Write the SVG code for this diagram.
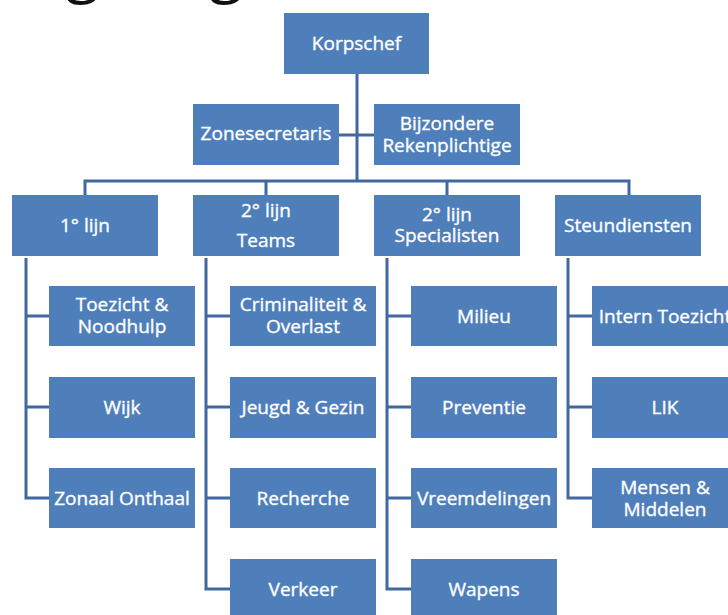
<svg xmlns="http://www.w3.org/2000/svg" width="728" height="615" viewBox="0 0 728 615">
<style>
.box{fill:#4f7fbb;}
.t{fill:#ffffff;stroke:#ffffff;stroke-width:0.35;font-family:"Open Sans","Liberation Sans",sans-serif;font-size:19px;text-anchor:middle;}
.ln{fill:none;stroke:#41689f;stroke-width:3;}
.title{fill:#111111;font-family:"Open Sans","Liberation Sans",sans-serif;font-size:62px;}
</style>
<rect width="728" height="615" fill="#ffffff"/>
<text class="title" x="-8" y="-10">Organogram</text>
<g id="connectors">
<path class="ln" d="M357 74V181M339 135H374M85 195V181H629V195M266 181V195M447 181V195"/>
<path class="ln" d="M26 258V498H49M26 316H49M26 407H49"/>
<path class="ln" d="M206 258V589H230M206 316H230M206 407H230M206 498H230"/>
<path class="ln" d="M387 258V589H411M387 316H411M387 407H411M387 498H411"/>
<path class="ln" d="M568 258V498H592M568 316H592M568 407H592"/>
</g>
<g id="korpschef"><rect class="box" x="284" y="13" width="145" height="61"/><text class="t" x="356.5" y="50">Korpschef</text></g>
<g id="zonesecretaris"><rect class="box" x="193" y="104" width="146" height="61"/><text class="t" x="266" y="140">Zonesecretaris</text></g>
<g id="bijzondere"><rect class="box" x="374" y="104" width="146" height="61"/><text class="t" x="447" y="130">Bijzondere</text><text class="t" x="447" y="152">Rekenplichtige</text></g>
<g id="lijn1"><rect class="box" x="12" y="195" width="146" height="61"/><text class="t" x="85" y="232">1° lijn</text></g>
<g id="lijn2teams"><rect class="box" x="193" y="195" width="146" height="61"/><text class="t" x="266" y="217">2° lijn</text><text class="t" x="266" y="247">Teams</text></g>
<g id="lijn2spec"><rect class="box" x="374" y="195" width="146" height="61"/><text class="t" x="447" y="221">2° lijn</text><text class="t" x="447" y="242">Specialisten</text></g>
<g id="steundiensten"><rect class="box" x="555" y="195" width="146" height="61"/><text class="t" x="628" y="232">Steundiensten</text></g>
<g id="toezicht"><rect class="box" x="49" y="286" width="146" height="60"/><text class="t" x="122" y="311">Toezicht &amp;</text><text class="t" x="122" y="333">Noodhulp</text></g>
<g id="wijk"><rect class="box" x="49" y="377" width="146" height="61"/><text class="t" x="122" y="414">Wijk</text></g>
<g id="zonaal"><rect class="box" x="49" y="468" width="146" height="60"/><text class="t" x="122" y="505">Zonaal Onthaal</text></g>
<g id="criminaliteit"><rect class="box" x="230" y="286" width="146" height="60"/><text class="t" x="303" y="311">Criminaliteit &amp;</text><text class="t" x="303" y="333">Overlast</text></g>
<g id="jeugd"><rect class="box" x="230" y="377" width="146" height="61"/><text class="t" x="303" y="414">Jeugd &amp; Gezin</text></g>
<g id="recherche"><rect class="box" x="230" y="468" width="146" height="60"/><text class="t" x="303" y="505">Recherche</text></g>
<g id="verkeer"><rect class="box" x="230" y="559" width="146" height="61"/><text class="t" x="303" y="596">Verkeer</text></g>
<g id="milieu"><rect class="box" x="411" y="286" width="146" height="60"/><text class="t" x="484" y="323">Milieu</text></g>
<g id="preventie"><rect class="box" x="411" y="377" width="146" height="61"/><text class="t" x="484" y="414">Preventie</text></g>
<g id="vreemdelingen"><rect class="box" x="411" y="468" width="146" height="60"/><text class="t" x="484" y="505">Vreemdelingen</text></g>
<g id="wapens"><rect class="box" x="411" y="559" width="146" height="61"/><text class="t" x="484" y="596">Wapens</text></g>
<g id="intern"><rect class="box" x="592" y="286" width="146" height="60"/><text class="t" x="665" y="323">Intern Toezicht</text></g>
<g id="lik"><rect class="box" x="592" y="377" width="146" height="61"/><text class="t" x="665" y="414">LIK</text></g>
<g id="mensen"><rect class="box" x="592" y="468" width="146" height="60"/><text class="t" x="665" y="494">Mensen &amp;</text><text class="t" x="665" y="516">Middelen</text></g>
</svg>
